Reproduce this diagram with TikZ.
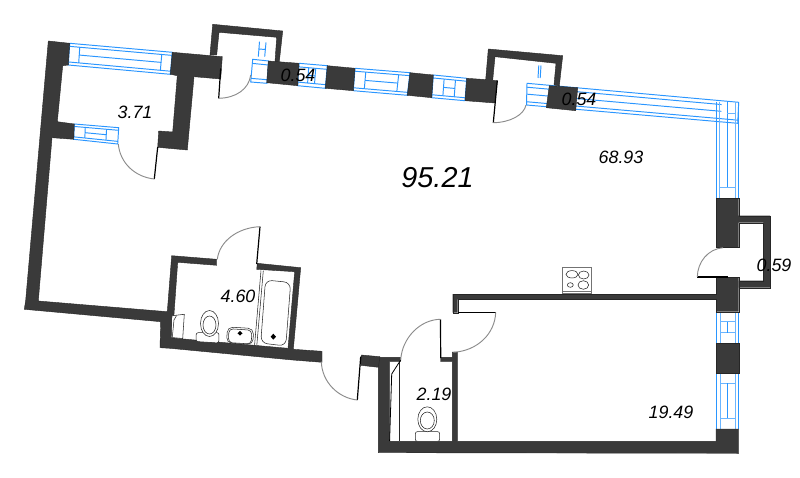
\documentclass[tikz,border=0pt]{standalone}
\usepackage{fontspec}
\setmainfont{Liberation Sans}
\usetikzlibrary{calc}
\definecolor{wallc}{HTML}{3A3A3A}
\definecolor{winc}{HTML}{2A96FF}
\definecolor{arcc}{HTML}{8C8C8C}
\tikzset{
  wall/.style={fill=wallc,draw=black!85,line width=0.3pt,line join=miter},
  winl/.style={draw=winc,line width=0.72pt},
  wint/.style={draw=winc!70,line width=0.55pt},
  leaf/.style={draw=black,line width=0.9pt},
  swing/.style={draw=arcc,line width=0.7pt},
  fix/.style={draw=black!85,line width=0.4pt,fill=white},
  lab/.style={font=\itshape\fontsize{13.4pt}{15pt}\selectfont,text=black,inner sep=0pt},
  big/.style={font=\itshape\fontsize{21.6pt}{24pt}\selectfont,text=black,inner sep=0pt}
}
\newcommand\winq[4]{\coordinate (wa) at (#1);\coordinate (wb) at (#2);\coordinate (wc) at (#3);\coordinate (wd) at (#4);
  \draw[winl] (wa)--(wb)--(wc)--(wd)--cycle;}
\newcommand\wl[4]{\draw[winl] ($($(wa)!#1!(wb)$)!#2!($(wd)!#1!(wc)$)$) -- ($($(wa)!#3!(wb)$)!#4!($(wd)!#3!(wc)$)$);}
\begin{document}
\begin{tikzpicture}[x=0.75pt,y=-0.75pt]
\useasboundingbox[fill=white] (0,0) rectangle (800,478);
% windows
\winq{69.7,43.3}{172.3,52.3}{170.3,74.3}{68.3,65}
\wl{0}{.14}{1}{.14}\wl{0}{.86}{1}{.86}\wl{.1}{.5}{.9}{.5}\wl{.1}{.14}{.1}{.86}\wl{.9}{.14}{.9}{.86}
\winq{74.3,124}{118.7,127.7}{117.7,144}{73.7,139.3}
\wl{0}{.16}{1}{.16}\wl{0}{.84}{1}{.84}\wl{.25}{.5}{.73}{.5}\wl{.25}{.16}{.25}{.84}\wl{.73}{.16}{.73}{.84}
\winq{252.7,59.3}{268.7,61}{267,83.3}{250.7,82}
\wl{0}{.18}{1}{.18}\wl{0}{.84}{1}{.84}
\winq{299,63.3}{327.3,65.7}{325.3,88.3}{297.7,85.7}
\wl{0}{.16}{1}{.16}\wl{0}{.84}{1}{.84}\wl{.35}{.16}{.35}{.84}\wl{.6}{.16}{.6}{.84}\wl{.35}{.5}{.6}{.5}
\winq{355,68.3}{410,72.7}{407.3,95.3}{353.3,90.7}
\wl{0}{.13}{1}{.13}\wl{0}{.87}{1}{.87}\wl{.2}{.5}{.8}{.5}\wl{.2}{.13}{.2}{.87}\wl{.8}{.13}{.8}{.87}
\winq{433.3,75}{466.7,78.3}{465,100.7}{431.7,97.7}
\wl{0}{.13}{1}{.13}\wl{0}{.87}{1}{.87}\wl{.33}{.5}{.67}{.5}\wl{.33}{.13}{.33}{.87}\wl{.67}{.13}{.67}{.87}
\winq{527,83.3}{738.7,102.3}{737.7,123.3}{526.5,105}
\wl{0}{.18}{.92}{.18}\wl{0}{.85}{1}{.85}\wl{0}{.5}{.92}{.5}
% right column window
\draw[winl] (716,102)--(716,198.3) (738.7,102)--(738.7,198.3);
\draw[wint] (719.5,102)--(719.5,198.3) (735.5,102)--(735.5,198.3);
\draw[winl] (727.3,102)--(727.3,187.3);
\draw[wint] (719.5,187.3)--(735.5,187.3) (727.3,113)--(735.5,113);
% lower right windows
\draw[winl] (716,311.7)--(716,343.3) (738.7,311.7)--(738.7,343.3);
\draw[wint] (720,311.7)--(720,343.3) (735,311.7)--(735,343.3);
\draw[wint] (720,321.7)--(735,321.7) (720,332.7)--(735,332.7);
\draw[winl] (727.5,321.7)--(727.5,332.7);
\draw[winl] (716,372.7)--(716,429) (738.7,372.7)--(738.7,429);
\draw[wint] (720,372.7)--(720,429) (735,372.7)--(735,429);
\draw[wint] (720,383.3)--(735,383.3) (720,418.3)--(735,418.3);
\draw[winl] (727.5,383.3)--(727.5,418.3);
% blue marks in closets
\draw[winl] (259.5,41.7)--(258.3,56.7) (266,42.3)--(264.7,56.7) (259,49)--(265.4,49.5);
\draw[winl] (538.8,65.5)--(538,78) (541,65.5)--(540.2,78);
% main wall
\path[wall] (48.3,41)--(69.7,43.3)--(68.3,65)--(62.7,65.7)--(57.3,121.7)--(74.3,124)--(73.7,139.3)--(52,137.7)--(38.3,301)--(167.3,311.7)
  --(171.7,255.7)--(216.7,259.3)--(216.7,265.3)--(177.7,262.3)--(172.3,338)--(288,348.3)--(294.7,271.7)--(256.7,269.3)--(257.3,263.3)--(300.7,267.7)--(293.3,349.3)--(322,351.3)--(322,362.3)--(292.7,360)--(170,348.3)--(160,347.7)--(160.7,321.7)--(24.3,309.3)--(25.7,300.3)--cycle;
% thick top-left pier
\path[wall] (172.3,52.3)--(222.3,56.7)--(220.7,79)--(194,76.7)--(187.3,150)--(157.7,147.3)--(158.7,131)--(172.7,132)--(177.3,75.7)--(170.3,74.3)--cycle;
% closet 1
\path[wall] (210,55)--(212.7,24.3)--(282.7,31)--(279.3,61.7)--(275,61.7)--(276.7,37.3)--(219,32.3)--(216.7,55)--cycle;
\path[wall] (268.3,61)--(299,63.3)--(297.7,85.7)--(266.7,82.7)--cycle;
\path[wall] (327.3,65.7)--(355,68.3)--(353.3,90.7)--(325.3,88.3)--cycle;
\path[wall] (410,72.7)--(433.3,75)--(431.7,97.7)--(407.3,95.3)--cycle;
\path[wall] (466.7,78.3)--(485.7,79.6)--(488.3,49)--(562.7,55.7)--(559.3,86)--(554,85)--(556,63.3)--(495,56.7)--(492.7,80.3)--(497.3,80.7)--(495,103)--(465,100.7)--cycle;
\path[wall] (549.3,85.7)--(577.7,87.7)--(575.7,110.7)--(546.3,107.7)--cycle;
% right side + balcony
\path[wall] (716,198.3)--(738.7,198.3)--(738.7,215.7)--(770,215.7)--(770,287.7)--(738.7,287.7)--(738.7,280.7)--(763.3,280.7)--(763.3,222.7)--(738.7,222.7)--(738.7,247.3)--(716,247.3)--cycle;
\path[wall] (452.7,294)--(716,294)--(716,277.3)--(738.7,277.3)--(738.7,311.7)--(716,311.7)--(716,299.3)--(457.7,299.3)--(457.7,312.7)--(452.7,312.7)--cycle;
\path[wall] (716,343.3)--(738.7,343.3)--(738.7,372.7)--(716,372.7)--cycle;
% lower rooms
\path[wall] (378.3,357.3)--(400.5,357.3)--(400.5,361.7)--(389.3,361.7)--(389.3,441.3)--(452.3,441.3)--(452.3,361.7)--(440.7,361.7)--(440.7,357.3)--(452.3,357.3)--(452.3,352)--(457.7,352)--(457.7,441.3)--(716,441.3)--(716,429)--(738.7,429)--(738.7,453.3)--(378.3,452.7)--cycle;
\path[wall] (361.3,355)--(380,356.7)--(378.3,367.3)--(360.7,365.3)--cycle;
% doors
\draw[leaf] (260,226.7)--(256.7,264);
\draw[swing] (260,226.7) .. controls (238,227.5) and (219.5,241) .. (217.3,259.3);
\draw[leaf] (360.7,356.7)--(357.3,400);
\draw[swing] (357.3,400) .. controls (338,398) and (322,382) .. (321.3,361.7);
\draw[leaf] (220.7,68.3)--(218.7,98.3);
\draw[swing] (218.7,98.3) .. controls (236,98) and (249,89) .. (250.7,75);
\draw[leaf] (157.7,147)--(154.3,179);
\draw[swing] (154.3,179) .. controls (135,177) and (120,163) .. (118.3,144);
\draw[leaf] (497.3,80.7)--(493.3,122.7);
\draw[swing] (493.3,122.7) .. controls (510,122.5) and (524,115) .. (526,105);
\draw[leaf] (697.3,277)--(728,277);
\draw[swing] (697.3,277) .. controls (697.5,262) and (708,249) .. (723,247.7);
\draw[leaf] (440.5,319.3)--(440.7,358);
\draw[swing] (440.5,319.3) .. controls (420,319.5) and (402,338) .. (400.7,360);
\draw[leaf] (457.7,312.3)--(495.7,312.3);
\draw[swing] (495.7,312.3) .. controls (495,334) and (477,351) .. (453.3,352.3);
% stove
\draw[fix,draw=black!55] (562.3,267.7) rectangle (591.3,293);
\draw[fix,draw=black!55] (562.3,291.5)--(591.3,291.5);
\draw[fix] (572,274.3) ellipse[x radius=6,y radius=3.7];
\draw[fix] (583.7,275) ellipse[x radius=5.3,y radius=4];
\draw[fix] (570.3,285) ellipse[x radius=3,y radius=2.3];
\draw[fix] (583.3,285) ellipse[x radius=5.3,y radius=4.3];
% bath
\draw[fix] (261,270.5)--(254.5,346) (263.3,270.7)--(256.7,346.5);
\draw[fix,rounded corners=5pt] (265.5,280)--(290.7,282.5)--(285.8,346)--(260.7,343)--cycle;
\draw[fill=black,draw=none] (273.3,333.7)--(276,336.7)--(273.3,339.7)--(270.7,336.7)--cycle;
% bath fixtures
\draw[fix] (172.3,315.7)--(184.3,314.3)--(182.7,338.5)--(171.7,337.5);
\draw[fix] (174,320)--(176.5,315.5) (174,320)--(172.3,337);
\draw[fix,rounded corners=1.5pt] (196.2,332.7)--(219,332.7)--(218.7,343)--(196,341.5)--cycle;
\draw[fix] (209.5,323.5) ellipse[x radius=9,y radius=13];
\draw[fix] (209.5,325) ellipse[x radius=6.5,y radius=9];
\draw[fix,rounded corners=4pt] (227.5,327)--(253.5,328.5)--(253,344.5)--(226.5,343)--cycle;
\draw[fix,rounded corners=3pt] (229,328.7)--(251.8,330.2)--(251.3,344)--(228.3,342.5)--cycle;
\draw[fill=black,draw=none] (240,331)--(242.5,333.3)--(240,335.6)--(237.5,333.3)--cycle;
% WC fixtures
\draw[fix] (399.3,360.7)--(399.3,441.3);
\draw[leaf,line width=0.6pt] (400.7,360)--(391.7,374)--(389.6,441);
\draw[fix,rounded corners=1.5pt] (415.3,431.7)--(439.7,431.7)--(439.7,441.3)--(415.3,441.3)--cycle;
\draw[fix] (427.3,419.3) ellipse[x radius=9.5,y radius=12.5];
\draw[fix] (427.3,420.5) ellipse[x radius=7,y radius=8.5];
% labels
\node[lab] (a) at (135,112) {3.71};
\node[lab] (b) at (298,75) {0.54};
\node[lab] (c) at (579,99) {0.54};
\node[lab] (d) at (621,157) {68.93};
\node[big] (e) at (437.5,178) {95.21};
\node[lab] (f) at (774,265) {0.59};
\node[lab] (g) at (238,296) {4.60};
\node[lab] (h) at (434,394) {2.19};
\node[lab] (i) at (671,412) {19.49};
\end{tikzpicture}
\end{document}
